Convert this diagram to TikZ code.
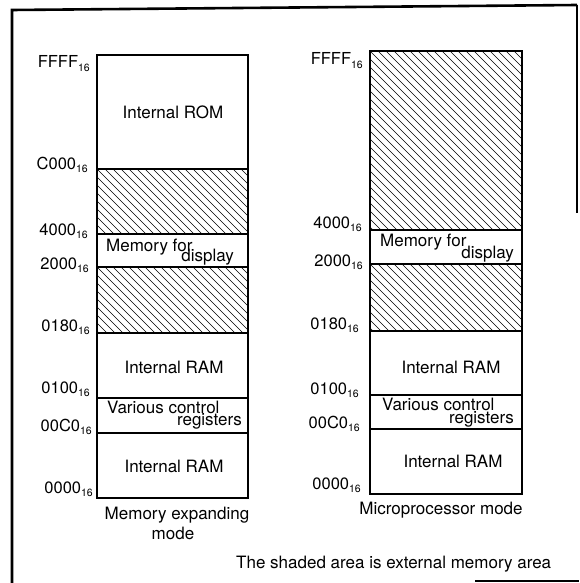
\documentclass[tikz,border=0pt]{standalone}
\usepackage{fontspec}
\setmainfont{TeX Gyre Heros}
\newcommand\hx[1]{#1\raisebox{-0.35ex}{\fontsize{10.5}{11}\selectfont 16}}
\newcommand\hatchrect[4]{%
  \begin{scope}
    \clip (#1,#2) rectangle (#3,#4);
    \foreach \k in {-200,-192,...,160} \draw[hatchline] (#1+\k,#2) -- ++(220,220);
  \end{scope}}
\begin{document}
\begin{tikzpicture}[x=1pt,y=-1pt,
  font=\fontsize{17}{20}\selectfont,
  boxline/.style={line width=1.3pt},
  hatchline/.style={line width=0.55pt},
  frameline/.style={line width=2.6pt},
  addr/.style={anchor=base east,inner sep=0pt,font=\fontsize{16.5}{20}\selectfont},
  txt/.style={inner sep=0pt}]
\useasboundingbox (0,0) rectangle (579,583);
% outer frame (partially visible)
\coordinate (f1) at (12,583);
\coordinate (f2) at (12,10);
\coordinate (f3) at (577,5);
\coordinate (f4) at (577,213);
\coordinate (f5) at (475,581);
\coordinate (f6) at (579,581);
\draw[frameline] (f1) -- (f2) -- (f3);
\draw[line width=1.6pt] (f3) -- (f4);
\draw[frameline] (f5) -- (f6);
% ---------------- left column ----------------
\hatchrect{97}{169}{248}{234}
\hatchrect{97}{267}{248}{333}
\draw[boxline] (97,55) rectangle (248,498);
\foreach \yy in {169,234,267,333,398,433} \draw[boxline] (97,\yy) -- (248,\yy);
\node[addr] (lffff) at (90,68) {\hx{FFFF}};
\node[addr] (lc000) at (88,169) {\hx{C000}};
\node[addr] (l4000) at (88,235) {\hx{4000}};
\node[addr] (l2000) at (89,269) {\hx{2000}};
\node[addr] (l0180) at (90,331) {\hx{0180}};
\node[addr] (l0100) at (90,393) {\hx{0100}};
\node[addr] (l00c0) at (92,431) {\hx{00C0}};
\node[addr] (l0000) at (93,493) {\hx{0000}};
\node[txt,anchor=base] (lrom) at (173,119) {Internal ROM};
\node[txt,anchor=base west] (lmem) at (106,251) {Memory for};
\node[txt,anchor=base east] (ldisp) at (234,261) {display};
\node[txt,anchor=base] (lram1) at (174,373) {Internal RAM};
\node[txt,anchor=base west] (lvar) at (107,413) {Various control};
\node[txt,anchor=base east] (lreg) at (242,425) {registers};
\node[txt,anchor=base] (lram0) at (174,472) {Internal RAM};
\node[txt,anchor=base] (lcap1) at (177,519) {Memory expanding};
\node[txt,anchor=base] (lcap2) at (173,539) {mode};
% ---------------- right column ----------------
\hatchrect{370}{51}{522}{230}
\hatchrect{370}{264}{522}{331}
\draw[boxline] (370,51) rectangle (522,494);
\foreach \yy in {230,264,331,395,429} \draw[boxline] (370,\yy) -- (522,\yy);
\node[addr] (rffff) at (363,65) {\hx{FFFF}};
\node[addr] (r4000) at (362,228) {\hx{4000}};
\node[addr] (r2000) at (363,266) {\hx{2000}};
\node[addr] (r0180) at (359,329) {\hx{0180}};
\node[addr] (r0100) at (359,394) {\hx{0100}};
\node[addr] (r00c0) at (360,428) {\hx{00C0}};
\node[addr] (r0000) at (361,489) {\hx{0000}};
\node[txt,anchor=base west] (rmem) at (380,246) {Memory for};
\node[txt,anchor=base east] (rdisp) at (514,258) {display};
\node[txt,anchor=base] (rram1) at (451,373) {Internal RAM};
\node[txt,anchor=base west] (rvar) at (382,410) {Various control};
\node[txt,anchor=base east] (rreg) at (514,423) {registers};
\node[txt,anchor=base] (rram0) at (453,467) {Internal RAM};
\node[txt,anchor=base] (rcap) at (441,514) {Microprocessor mode};
% footnote
\node[txt,anchor=base west] (note) at (236,568) {The shaded area is external memory area};
\end{tikzpicture}
\end{document}
